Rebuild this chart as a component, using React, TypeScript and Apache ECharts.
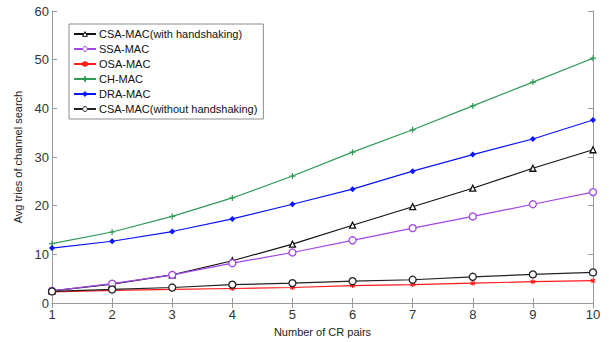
import React, { useEffect, useRef } from "react";
import * as echarts from "echarts";

const xValues = [1, 2, 3, 4, 5, 6, 7, 8, 9, 10];
const seriesNames = [
  "CSA-MAC(with handshaking)",
  "SSA-MAC",
  "OSA-MAC",
  "CH-MAC",
  "DRA-MAC",
  "CSA-MAC(without handshaking)",
];
const csaWith = [2.5, 3.9, 5.8, 8.7, 12.1, 16.0, 19.8, 23.6, 27.7, 31.5];
const ssa = [2.5, 4.0, 5.8, 8.2, 10.4, 12.9, 15.4, 17.8, 20.3, 22.8];
const osa = [2.3, 2.6, 2.8, 3.0, 3.2, 3.6, 3.8, 4.1, 4.4, 4.6];
const ch = [12.2, 14.6, 17.8, 21.6, 26.1, 31.0, 35.6, 40.5, 45.4, 50.3];
const dra = [11.3, 12.7, 14.7, 17.3, 20.3, 23.4, 27.1, 30.5, 33.7, 37.6];
const csaWithout = [2.4, 2.8, 3.2, 3.8, 4.1, 4.5, 4.8, 5.4, 5.9, 6.3];

const FONT = "Liberation Sans, Arial, sans-serif";

export default function App() {
  const ref = useRef<HTMLDivElement>(null);
  useEffect(() => {
    const chart = echarts.init(ref.current!, null, { renderer: "svg" });
    const pair = (arr: number[]) => xValues.map((x, i) => [x, arr[i]]);
    const plus = "path://M4,0 L6,0 L6,4 L10,4 L10,6 L6,6 L6,10 L4,10 L4,6 L0,6 L0,4 L4,4 Z";
    const star = "path://M4,0L6,0L6,3L9,1L10,3L7,5L10,7L9,9L6,7L6,10L4,10L4,7L1,9L0,7L3,5L0,3L1,1L4,3Z";
    const defs = [
      { name: seriesNames[0], data: csaWith, color: "#111111", symbol: "triangle", size: 6, fill: "none" },
      { name: seriesNames[1], data: ssa, color: "#a146e6", symbol: "circle", size: 7, fill: "none" },
      { name: seriesNames[2], data: osa, color: "#ff1a1a", symbol: star, size: 5, fill: "fill" },
      { name: seriesNames[3], data: ch, color: "#2e9a55", symbol: plus, size: 6, fill: "fill" },
      { name: seriesNames[4], data: dra, color: "#0a14ff", symbol: "diamond", size: 6, fill: "fill" },
      { name: seriesNames[5], data: csaWithout, color: "#222222", symbol: "circle", size: 7, fill: "none" },
    ];
    const axisLine = { show: true, lineStyle: { color: "#9a9a9a", width: 1 } };
    const tick = { show: true, inside: true, length: 5, lineStyle: { color: "#9a9a9a" } };
    chart.setOption({
      animation: false,
      backgroundColor: "#ffffff",
      textStyle: { fontFamily: FONT },
      grid: { left: 52, top: 11, right: 16, bottom: 34, containLabel: false },
      legend: {
        orient: "vertical",
        left: 69,
        top: 24,
        padding: [4, 6, 4, 4],
        itemGap: 3,
        itemWidth: 22,
        itemHeight: 6,
        itemStyle: { borderWidth: 1 },
        backgroundColor: "#ffffff",
        borderColor: "#8c8c8c",
        borderWidth: 1,
        textStyle: { fontSize: 11, lineHeight: 12, color: "#111", fontFamily: FONT, padding: [0, 0, 0, -2] },
        data: seriesNames,
      },
      xAxis: [
        {
          type: "value",
          min: 1,
          max: 10,
          interval: 1,
          name: "Number of CR pairs",
          nameLocation: "middle",
          nameGap: 17,
          nameTextStyle: { fontSize: 11, color: "#222", fontFamily: FONT },
          axisLine,
          axisTick: tick,
          splitLine: { show: false },
          axisLabel: { fontSize: 13, color: "#333", margin: 5, fontFamily: FONT },
        },
        {
          type: "value",
          position: "top",
          min: 1,
          max: 10,
          interval: 1,
          axisLine,
          axisTick: tick,
          splitLine: { show: false },
          axisLabel: { show: false },
        },
      ],
      yAxis: [
        {
          type: "value",
          min: 0,
          max: 60,
          interval: 10,
          name: "Avg tries of channel search",
          nameLocation: "middle",
          nameGap: 24,
          nameTextStyle: { fontSize: 11, color: "#222", fontFamily: FONT },
          axisLine,
          axisTick: tick,
          splitLine: { show: false },
          axisLabel: { fontSize: 13, color: "#333", margin: 3, fontFamily: FONT },
        },
        {
          type: "value",
          position: "right",
          min: 0,
          max: 60,
          interval: 10,
          axisLine,
          axisTick: tick,
          splitLine: { show: false },
          axisLabel: { show: false },
        },
      ],
      series: defs.map((d) => ({
        name: d.name,
        type: "line",
        data: pair(d.data),
        symbol: d.symbol,
        symbolSize: d.size,
        showAllSymbol: true,
        lineStyle: { color: d.color, width: 1.2 },
        itemStyle:
          d.fill === "none"
            ? { color: "#ffffff", borderColor: d.color, borderWidth: 1.3 }
            : { color: d.color, borderColor: d.color, borderWidth: 0 },
        color: d.color,
        emphasis: { disabled: true },
      })),
    });
    return () => chart.dispose();
  }, []);
  return <div ref={ref} style={{ width: 609, height: 342, position: "absolute", left: 0, top: 0 }} />;
}
